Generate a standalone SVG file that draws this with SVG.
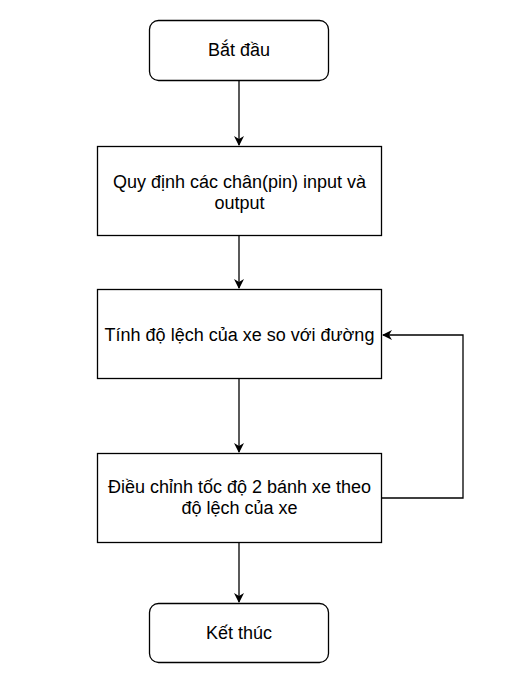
<svg xmlns="http://www.w3.org/2000/svg" width="526" height="695" viewBox="0 0 526 695">
<style>
.box{fill:#fff;stroke:#000;stroke-width:1.3}
.lbl{font-family:"Liberation Sans",Arial,sans-serif;font-size:18px;fill:#000;text-anchor:middle}
.edge{fill:none;stroke:#000;stroke-width:1.3}
</style>
<defs>
<marker id="arr" viewBox="0 0 10 10" refX="9" refY="5" markerWidth="10" markerHeight="10" markerUnits="userSpaceOnUse" orient="auto">
<path d="M0,0 L10,5 L0,10 L3,5 Z" fill="#000"/>
</marker>
</defs>
<rect width="526" height="695" fill="#fff"/>
<g id="connectors">
<path class="edge" d="M239,81 V145" marker-end="url(#arr)"/>
<path class="edge" d="M239,235 V288" marker-end="url(#arr)"/>
<path class="edge" d="M239,378 V452" marker-end="url(#arr)"/>
<path class="edge" d="M239,542 V602" marker-end="url(#arr)"/>
<path class="edge" d="M382,498 H463 V335 H383" marker-end="url(#arr)"/>
</g>
<g id="start">
<rect class="box" x="149.5" y="20.5" width="179" height="60" rx="9"/>
<text class="lbl" x="239" y="56">Bắt đầu</text>
</g>
<g id="define-pins">
<rect class="box" x="97.5" y="146.5" width="284" height="89"/>
<text class="lbl" x="239.5" y="188">Quy định các chân(pin) input và</text>
<text class="lbl" x="239.5" y="209">output</text>
</g>
<g id="compute-deviation">
<rect class="box" x="97.5" y="289.5" width="284" height="89"/>
<text class="lbl" x="239.5" y="341">Tính độ lệch của xe so với đường</text>
</g>
<g id="adjust-speed">
<rect class="box" x="97.5" y="453.5" width="284" height="89"/>
<text class="lbl" x="239.5" y="493">Điều chỉnh tốc độ 2 bánh xe theo</text>
<text class="lbl" x="239.5" y="514">độ lệch của xe</text>
</g>
<g id="end">
<rect class="box" x="149.5" y="603.5" width="179" height="59" rx="9"/>
<text class="lbl" x="239" y="639">Kết thúc</text>
</g>
</svg>
